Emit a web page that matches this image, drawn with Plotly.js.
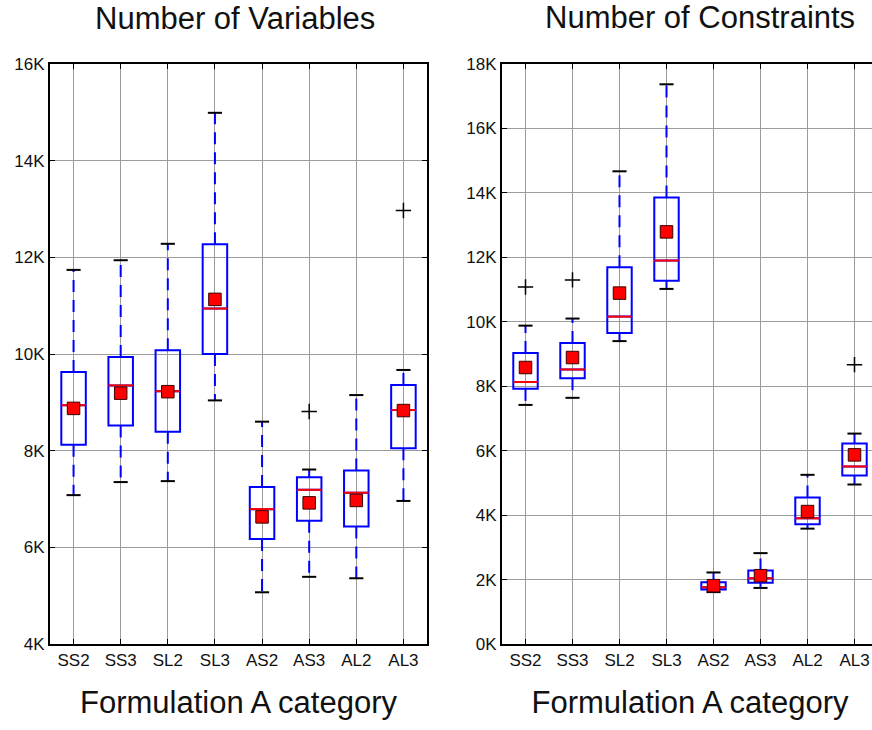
<!DOCTYPE html>
<html>
<head>
<meta charset="utf-8">
<script src="https://cdn.plot.ly/plotly-3.0.1.min.js"></script>
<style>
html, body { margin: 0; padding: 0; overflow: hidden; background: #fff; }
#chart { width: 880px; height: 730px; }
</style>
</head>
<body>
<div id="chart"></div>
<script>
// ---- data ----
const categories = ['SS2', 'SS3', 'SL2', 'SL3', 'AS2', 'AS3', 'AL2', 'AL3'];

// Number of Variables
const varLower  = [7080, 7350, 7370, 9040, 5070, 5390, 5360, 6960];
const varQ1     = [8120, 8520, 8390, 10000, 6170, 6550, 6430, 8050];
const varMedian = [8940, 9350, 9230, 10940, 6790, 7190, 7130, 8840];
const varQ3     = [9630, 9940, 10080, 12270, 7250, 7450, 7590, 9360];
const varUpper  = [11740, 11940, 12280, 14990, 8600, 7610, 9150, 9670];
const varMean   = [8875, 9190, 9220, 11130, 6630, 6920, 6970, 8830];
const varOutlierCat = ['AS3', 'AL3'];
const varOutlierVal = [8810, 12970];

// Number of Constraints
const conLower  = [7420, 7640, 9400, 11020, 1610, 1740, 3580, 4950];
const conQ1     = [7920, 8250, 9650, 11270, 1690, 1900, 3720, 5230];
const conMedian = [8130, 8520, 10160, 11900, 1760, 2040, 3900, 5510];
const conQ3     = [9030, 9340, 11690, 13860, 1920, 2280, 4550, 6220];
const conUpper  = [9880, 10100, 14670, 17370, 2220, 2820, 5250, 6530];
const conMean   = [8580, 8890, 10890, 12790, 1810, 2120, 4110, 5870];
const conOutlierCat = ['SS2', 'SS3', 'AL3'];
const conOutlierVal = [11080, 11300, 8670];

const varTickVals = [4000, 6000, 8000, 10000, 12000, 14000, 16000];
const varTickText = ['4K', '6K', '8K', '10K', '12K', '14K', '16K'];
const conTickVals = [0, 2000, 4000, 6000, 8000, 10000, 12000, 14000, 16000, 18000];
const conTickText = ['0K', '2K', '4K', '6K', '8K', '10K', '12K', '14K', '16K', '18K'];

// ---- styles ----
const BLUE = '#0000ff';
const FONT = 'Arial, "Liberation Sans", Helvetica, sans-serif';
const BOX_HALF = 0.26;
const CAP_HALF = 0.15;

function buildTraces(lower, q1, med, q3, upper, mean, oCat, oVal, xa, ya) {
  const idx = categories.map((c, i) => i);
  const traces = [];
  // box body
  traces.push({
    type: 'box', xaxis: xa, yaxis: ya,
    x: idx, q1: q1, median: med, q3: q3, lowerfence: q1, upperfence: q3,
    width: BOX_HALF * 2, boxpoints: false, whiskerwidth: 0,
    fillcolor: 'rgba(0,0,0,0)', line: { color: BLUE, width: 2 },
    hoverinfo: 'skip', showlegend: false
  });
  // whiskers (dashed)
  const wx = [], wy = [];
  idx.forEach(i => {
    wx.push(i, i, null, i, i, null);
    wy.push(q3[i], upper[i], null, q1[i], lower[i], null);
  });
  traces.push({
    type: 'scatter', mode: 'lines', xaxis: xa, yaxis: ya, x: wx, y: wy,
    line: { color: BLUE, width: 2, dash: '12px,8px' }, hoverinfo: 'skip', showlegend: false
  });
  // caps
  const cx = [], cy = [];
  idx.forEach(i => {
    cx.push(i - CAP_HALF, i + CAP_HALF, null, i - CAP_HALF, i + CAP_HALF, null);
    cy.push(upper[i], upper[i], null, lower[i], lower[i], null);
  });
  traces.push({
    type: 'scatter', mode: 'lines', xaxis: xa, yaxis: ya, x: cx, y: cy,
    line: { color: '#000', width: 2 }, hoverinfo: 'skip', showlegend: false
  });
  // medians (red)
  const mx = [], my = [];
  idx.forEach(i => {
    mx.push(i - BOX_HALF, i + BOX_HALF, null);
    my.push(med[i], med[i], null);
  });
  traces.push({
    type: 'scatter', mode: 'lines', xaxis: xa, yaxis: ya, x: mx, y: my,
    line: { color: '#ff0000', width: 2 }, hoverinfo: 'skip', showlegend: false
  });
  // outliers
  traces.push({
    type: 'scatter', mode: 'markers', xaxis: xa, yaxis: ya,
    x: oCat.map(c => categories.indexOf(c)), y: oVal,
    marker: { symbol: 'cross-thin', size: 11, line: { color: '#000', width: 1.5 } },
    hoverinfo: 'skip', showlegend: false
  });
  // means
  traces.push({
    type: 'scatter', mode: 'markers', xaxis: xa, yaxis: ya, x: idx, y: mean,
    marker: { symbol: 'square', size: 12.5, color: '#ff0000', line: { color: '#3a0000', width: 1 } },
    hoverinfo: 'skip', showlegend: false
  });
  return traces;
}

const data = [].concat(
  buildTraces(varLower, varQ1, varMedian, varQ3, varUpper, varMean, varOutlierCat, varOutlierVal, 'x', 'y'),
  buildTraces(conLower, conQ1, conMedian, conQ3, conUpper, conMean, conOutlierCat, conOutlierVal, 'x2', 'y2')
);

const xCommon = {
  range: [-0.5, 7.5], tickmode: 'array', tickvals: categories.map((c, i) => i), ticktext: categories,
  showgrid: true, gridcolor: '#9c9c9c', gridwidth: 1, zeroline: false,
  showline: true, linecolor: '#000', linewidth: 2, mirror: 'ticks',
  ticks: 'inside', ticklen: 5, tickwidth: 1, tickcolor: '#000',
  tickfont: { family: FONT, size: 17, color: '#111' },
  title: { text: 'Formulation A category', font: { family: FONT, size: 31, color: '#111' }, standoff: 22 }
};
const yCommon = {
  showgrid: true, gridcolor: '#9c9c9c', gridwidth: 1, zeroline: false,
  showline: true, linecolor: '#000', linewidth: 2, mirror: 'ticks',
  ticks: 'inside', ticklen: 5, tickwidth: 1, tickcolor: '#000',
  tickfont: { family: FONT, size: 17, color: '#111' }
};

const layout = {
  width: 880, height: 730,
  margin: { l: 50, r: 2, t: 64, b: 86 },
  paper_bgcolor: '#fff', plot_bgcolor: '#fff',
  showlegend: false,
  xaxis: Object.assign({}, xCommon, { domain: [0, 0.4553], anchor: 'y' }),
  yaxis: Object.assign({}, yCommon, { range: [4000, 16000], tickmode: 'array', tickvals: varTickVals, ticktext: varTickText, anchor: 'x' }),
  xaxis2: Object.assign({}, xCommon, { domain: [0.5459, 1], anchor: 'y2' }),
  yaxis2: Object.assign({}, yCommon, { range: [0, 18000], tickmode: 'array', tickvals: conTickVals, ticktext: conTickText, anchor: 'x2' }),
  annotations: [
    { text: 'Number of Variables', xref: 'paper', yref: 'paper', x: 0.224, y: 1.079,
      xanchor: 'center', yanchor: 'middle', showarrow: false, font: { family: FONT, size: 31, color: '#111' } },
    { text: 'Number of Constraints', xref: 'paper', yref: 'paper', x: 0.785, y: 1.081,
      xanchor: 'center', yanchor: 'middle', showarrow: false, font: { family: FONT, size: 31, color: '#111' } }
  ]
};

Plotly.newPlot('chart', data, layout, { displayModeBar: false, staticPlot: true });
</script>
</body>
</html>
